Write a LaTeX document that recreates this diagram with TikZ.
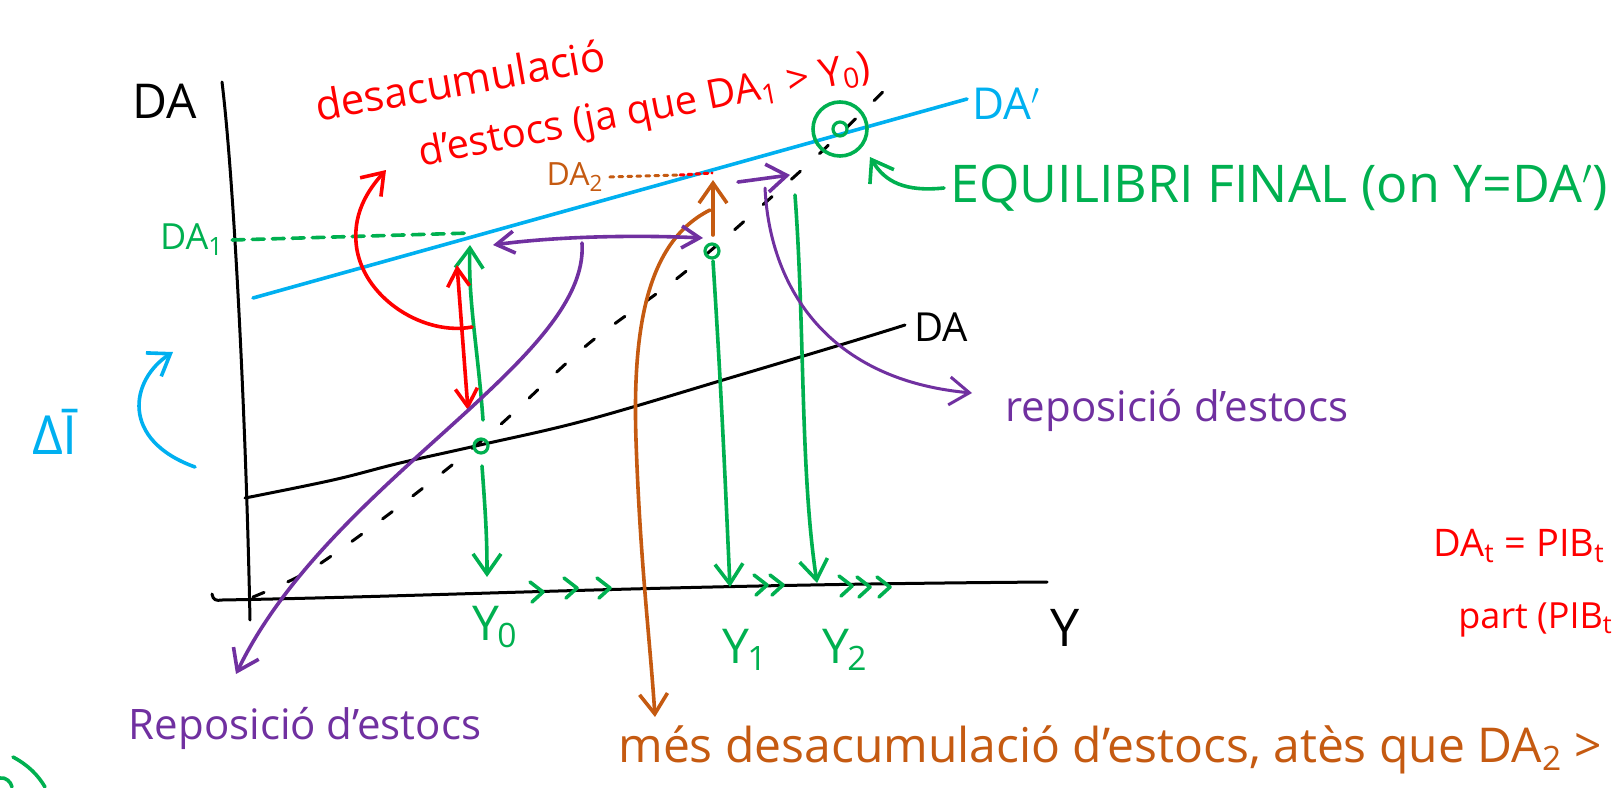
\documentclass[tikz,border=0pt]{standalone}
\usepackage{fontspec}
\setmainfont{Open Sans}
\usetikzlibrary{arrows.meta}
\definecolor{inkred}{HTML}{FF0000}
\definecolor{inkgreen}{HTML}{00B050}
\definecolor{inkblue}{HTML}{00B0F0}
\definecolor{inkpurple}{HTML}{7030A0}
\definecolor{inkbrown}{HTML}{C55A11}

\tikzset{
  ink/.style={line width=1.8pt, line cap=round, line join=round},
  pen/.style={line width=1.5pt, line cap=round, line join=round},
  tip/.style={-{Straight Barb[length=10pt,width=14pt]}},
  tips/.style={{Straight Barb[length=9pt,width=11pt]}-{Straight Barb[length=9pt,width=11pt]}},
  hand/.style={font=\fontsize{#1}{#1}\selectfont, inner sep=0pt},
  dot/.style={circle, draw=inkgreen, line width=1.6pt, minimum size=7pt, inner sep=0pt},
}

\begin{document}
\begin{tikzpicture}[x=0.5pt, y=-0.5pt]
\useasboundingbox (0,0) rectangle (1622,787);

% ejes
\draw[pen] (222,82) .. controls (234,180) and (246,420) .. (250,620);
\draw[pen] (212,594) .. controls (213,600) and (216,601) .. (222,600) .. controls (450,596) and (650,585) .. (1047,582);
\node[hand=24] (lblda) at (165,101) {DA};
\node[hand=26] (lbly) at (1065,628) {Y};

% DA, DA' i recta de 45 graus
\draw[pen] plot[smooth, tension=0.6] coordinates {(245,498) (333,480) (400,463) (480,445) (587,420) (733,377) (850,342) (905,325)};
\node[hand=20, anchor=west] (lbldaold) at (914,327) {DA};
\draw[pen, dash pattern=on 6pt off 13pt] plot[smooth] coordinates {(253,597) (307,572) (373,526) (437,477) (500,425) (587,345) (675,280) (732,232) (818,155) (900,75)};
\draw[ink, inkblue] (253,298) -- (967,99);
\node[hand=22, inkblue, anchor=west] (lbldanew) at (972,104) {DA$'$};

% increment de la inversio
\node[hand=27, inkblue] (lbldi) at (55,432) {ΔĪ};
\coordinate (dis) at (195,467);
\coordinate (die) at (173,352);
\draw[ink, inkblue, tip] (dis) .. controls (120,440) and (130,380) .. (die);

% punts d'equilibri
\node[dot] (e0) at (481,446) {};
\node[dot] (e1) at (712,251) {};
\node[circle, draw=inkgreen, line width=1.8pt, minimum size=27pt, inner sep=0pt] (efout) at (840,129) {};
\node[dot] (ef) at (840,129) {};

% DA1
\node[hand=18, inkgreen] (lblda1) at (192,240) {DA\textsubscript{1}};
\coordinate (da1end) at (471,233);
\draw[ink, inkgreen, dash pattern=on 6pt off 4pt] ([xshift=4pt]lblda1.east) -- (da1end);

% fletxes verdes
\coordinate (up0s) at (483,420);
\coordinate (up0e) at (470,245);
\draw[ink, inkgreen, tip] (up0s) .. controls (478,350) and (468,300) .. (up0e);
\coordinate (y0ax) at (487,577);
\draw[ink, inkgreen, tip] (e0) ++(1,20) .. controls (486,520) and (487,540) .. (y0ax);
\coordinate (y1ax) at (730,587);
\draw[ink, inkgreen, tip] (e1) ++(1,10) .. controls (722,400) and (726,500) .. (y1ax);
\coordinate (y2s) at (795,195);
\coordinate (y2ax) at (817,583);
\draw[ink, inkgreen, tip] (y2s) .. controls (805,330) and (800,470) .. (y2ax);
\foreach \cx/\cy in {543/592, 577/588, 610/588, 767/585, 783/585, 852/586, 870/587, 890/587}
  \draw[ink, inkgreen] (\cx-13,\cy-10) -- (\cx,\cy) -- (\cx-11,\cy+10);
\node[hand=24, inkgreen] (lbly0) at (495,627) {Y\kern-1pt\textsubscript{0}};
\node[hand=24, inkgreen] (lbly1) at (745,650) {Y\kern-1pt\textsubscript{1}};
\node[hand=24, inkgreen] (lbly2) at (845,650) {Y\kern-1pt\textsubscript{2}};

% equilibri final
\node[hand=26, inkgreen, anchor=west] (lbleq) at (950,188) {EQUILIBRI FINAL (on Y=DA$'$)};
\coordinate (eqtip) at (870,157);
\draw[ink, inkgreen, tip] ([xshift=-3pt]lbleq.west) .. controls (905,192) and (885,182) .. (eqtip);

% desacumulacio (vermell)
\node[hand=21, inkred, rotate=10] (lbldes) at (460,80) {desacumulació};
\node[hand=20, inkred, rotate=11] (lbldes2) at (645,112) {d'estocs (ja que DA\textsubscript{1} > Y\textsubscript{0})};
\coordinate (gapt) at (457,265);
\coordinate (gapb) at (468,410);
\draw[ink, inkred, tips] (gapb) -- (gapt);
\coordinate (rcs) at (472,327);
\coordinate (rcm) at (357,250);
\coordinate (rce) at (386,170);
\draw[ink, inkred, tip] (rcs) .. controls (425,336) and (366,300) .. (rcm) .. controls (351,215) and (368,190) .. (rce);
\node[hand=19, inkred, anchor=west] (lbleqt) at (1433,546) {DA\textsubscript{t} = PIB\textsubscript{t}};
\node[hand=18, inkred, anchor=west] (lblpart) at (1458,620) {part (PIB\textsubscript{t}};

% DA2 (taronja)
\node[hand=16, inkbrown] (lblda2) at (575,177) {DA\textsubscript{2}};
\coordinate (da2m) at (680,175);
\coordinate (da2end) at (712,173);
\draw[pen, inkbrown, dash pattern=on 2pt off 2.5pt] ([xshift=3pt]lblda2.east) -- (da2m);
\draw[pen, inkred, dash pattern=on 2pt off 2pt] (da2m) -- (da2end);
\coordinate (brs) at (713,235);
\coordinate (bre) at (713,180);
\draw[ink, inkbrown, tip] (brs) -- (bre);
\coordinate (bcs) at (710,210);
\coordinate (bce) at (655,717);
\draw[ink, inkbrown, tip] (bcs) .. controls (650,240) and (632,320) .. (636,440) .. controls (640,560) and (650,640) .. (bce);
\node[hand=24, inkbrown, anchor=west] (lblmes) at (618,750) {més desacumulació d'estocs, atès que DA\textsubscript{2} >};

% reposicio (lila)
\coordinate (pdl) at (493,245);
\coordinate (pdr) at (703,238);
\draw[ink, inkpurple, tips] (pdl) .. controls (560,236) and (640,235) .. (pdr);
\coordinate (pcs) at (582,243);
\coordinate (pce) at (236,674);
\draw[ink, inkpurple, tip] (pcs) .. controls (590,360) and (330,480) .. (pce);
\node[hand=21, inkpurple] (lblrep) at (305,728) {Reposició d'estocs};
\coordinate (pas) at (738,182);
\coordinate (pae) at (790,175);
\draw[ink, inkpurple, tip] (pas) -- (pae);
\coordinate (prs) at (765,188);
\coordinate (pre) at (972,393);
\draw[pen, inkpurple, tip] (prs) .. controls (770,290) and (830,380) .. (pre);
\node[hand=21, inkpurple] (lblrep2) at (1177,410) {reposició d'estocs};

% resta de la pagina
\draw[ink, inkgreen] (13,757) .. controls (28,765) and (38,775) .. (45,787);
\draw[ink, inkgreen] (0,778) .. controls (6,777) and (11,782) .. (12,787);
\end{tikzpicture}
\end{document}
